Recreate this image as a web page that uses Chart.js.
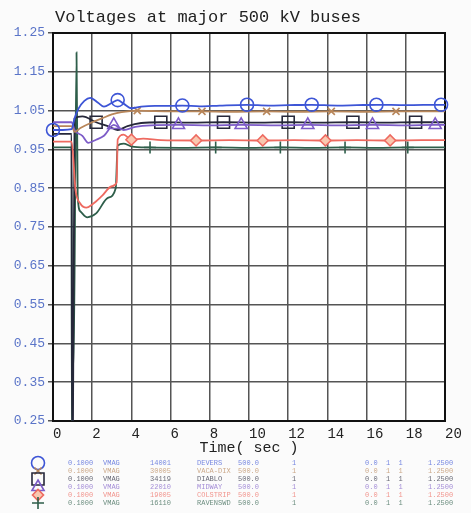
<!DOCTYPE html>
<html>
<head>
<meta charset="utf-8">
<script src="https://cdn.jsdelivr.net/npm/chart.js@4.4.0/dist/chart.umd.min.js"></script>
<style>
  html, body { margin: 0; padding: 0; background: #fbfbfb; }
</style>
</head>
<body>
<canvas id="volts" width="471" height="513"></canvas>
<script>
// axis ranges
const timeMin = 0, timeMax = 20, timeStep = 2;
const voltMin = 0.25, voltMax = 1.25, voltStep = 0.1;

// bus 1 (blue, circles)
const bus1Time  = [0, 0.5, 0.95, 1.1, 1.3, 1.6, 1.9, 2.3, 2.6, 3.0, 3.3, 3.6, 4.0, 4.5, 5.2, 6.0, 6.6, 7.5, 8.5, 9.9, 11.0, 12.0, 13.2, 14.5, 15.5, 16.5, 18.0, 19.8, 20];
const bus1Volts = [1.000, 1.000, 1.002, 1.030, 1.055, 1.075, 1.083, 1.070, 1.060, 1.070, 1.077, 1.068, 1.056, 1.060, 1.062, 1.062, 1.063, 1.061, 1.063, 1.065, 1.063, 1.064, 1.065, 1.063, 1.064, 1.065, 1.064, 1.065, 1.065];
const bus1Marks = [0, 3.3, 6.6, 9.9, 13.2, 16.5, 19.8];

// bus 2 (brown, x)
const bus2Time  = [0, 0.95, 1.1, 1.4, 2.0, 2.5, 3.0, 3.5, 4.3, 5.0, 6.0, 7.6, 9.0, 10.9, 12.5, 14.2, 16.0, 17.5, 20];
const bus2Volts = [1.010, 1.010, 0.995, 1.005, 1.020, 1.030, 1.040, 1.046, 1.050, 1.049, 1.048, 1.048, 1.047, 1.048, 1.047, 1.048, 1.047, 1.048, 1.048];
const bus2Marks = [4.3, 7.6, 10.9, 14.2, 17.5];

// bus 3 (black, squares)
const bus3Time  = [0, 0.5, 0.95, 0.97, 1.02, 1.1, 1.5, 2.2, 2.8, 3.3, 3.8, 4.5, 5.5, 7.0, 8.7, 10.5, 12.0, 13.5, 15.3, 17.0, 18.5, 20];
const bus3Volts = [0.990, 0.990, 0.990, 0.200, 0.250, 1.030, 1.035, 1.020, 1.010, 1.000, 1.010, 1.018, 1.020, 1.019, 1.020, 1.019, 1.020, 1.019, 1.020, 1.019, 1.020, 1.020];
const bus3Marks = [2.2, 5.5, 8.7, 12.0, 15.3, 18.5];

// bus 4 (purple, triangles)
const bus4Time  = [0, 0.95, 1.1, 1.5, 1.8, 2.2, 2.6, 3.1, 3.6, 4.2, 5.0, 6.4, 8.0, 9.6, 11.5, 13.0, 14.5, 16.3, 18.0, 19.5, 20];
const bus4Volts = [1.020, 1.020, 1.000, 0.985, 0.967, 0.975, 0.985, 1.013, 1.000, 1.008, 1.012, 1.013, 1.012, 1.013, 1.012, 1.013, 1.012, 1.013, 1.012, 1.013, 1.013];
const bus4Marks = [3.1, 6.4, 9.6, 13.0, 16.3, 19.5];

// bus 5 (red, diamonds)
const bus5Time  = [0, 0.95, 1.15, 1.4, 1.7, 2.0, 2.5, 3.0, 3.25, 3.3, 3.6, 4.0, 4.6, 5.5, 7.3, 9.0, 10.7, 12.3, 13.9, 15.5, 17.2, 18.8, 20];
const bus5Volts = [0.970, 0.970, 0.845, 0.810, 0.800, 0.808, 0.830, 0.855, 0.865, 0.975, 0.988, 0.975, 0.978, 0.974, 0.973, 0.974, 0.973, 0.974, 0.973, 0.974, 0.973, 0.974, 0.974];
const bus5Marks = [4.0, 7.3, 10.7, 13.9, 17.2];

// bus 6 (green, plus)
const bus6Time  = [0, 0.5, 0.95, 0.96, 1.02, 1.05, 1.2, 1.26, 1.4, 1.75, 2.2, 2.8, 3.2, 3.3, 3.6, 4.0, 4.95, 6.5, 8.3, 10.0, 11.6, 13.2, 14.9, 16.5, 18.1, 20];
const bus6Volts = [0.955, 0.955, 0.955, 0.200, 0.390, 0.390, 1.200, 0.830, 0.790, 0.775, 0.785, 0.825, 0.850, 0.960, 0.965, 0.958, 0.955, 0.954, 0.955, 0.954, 0.955, 0.954, 0.955, 0.954, 0.955, 0.955];
const bus6Marks = [4.95, 8.3, 11.6, 14.9, 18.1];

// legend table text
const legendScale = ['0.1000', '0.1000', '0.1000', '0.1000', '0.1000', '0.1000'];
const legendType  = ['VMAG', 'VMAG', 'VMAG', 'VMAG', 'VMAG', 'VMAG'];
const legendBus   = ['14001', '30005', '34119', '22010', '19005', '16110'];
const legendName  = ['DEVERS', 'VACA-DIX', 'DIABLO', 'MIDWAY', 'COLSTRIP', 'RAVENSWD'];
const legendKv    = ['500.0', '500.0', '500.0', '500.0', '500.0', '500.0'];
const legendTail  = ['0.0  1  1', '0.0  1  1', '0.0  1  1', '0.0  1  1', '0.0  1  1', '0.0  1  1'];
const legendBase  = ['1.2500', '1.2500', '1.2500', '1.2500', '1.2500', '1.2500'];

const MONO = "'Liberation Mono', 'DejaVu Sans Mono', monospace";

function series(label, times, volts, marks, color, style, r, fill) {
  return {
    label,
    data: times.map((t, i) => ({ x: t, y: volts[i] })),
    borderColor: color,
    borderWidth: 1.8,
    cubicInterpolationMode: 'monotone',
    pointStyle: style,
    pointRadius: ctx => (ctx.raw && marks.includes(ctx.raw.x)) ? r : 0,
    pointHoverRadius: 0,
    pointBorderColor: color,
    pointBackgroundColor: fill,
    pointBorderWidth: 1.6,
    clip: { left: 8, right: 8, top: 0, bottom: 0 },
    legendRadius: r
  };
}

const datasets = [
  series('bus1', bus1Time, bus1Volts, bus1Marks, '#3d55d6', 'circle', 6.5, 'rgba(0,0,0,0)'),
  series('bus2', bus2Time, bus2Volts, bus2Marks, '#b8865a', 'crossRot', 5, 'rgba(0,0,0,0)'),
  series('bus4', bus4Time, bus4Volts, bus4Marks, '#7d5cc8', 'triangle', 7, 'rgba(0,0,0,0)'),
  series('bus5', bus5Time, bus5Volts, bus5Marks, '#ee6a60', 'rectRot', 5.5, '#f9c8b0'),
  series('bus3', bus3Time, bus3Volts, bus3Marks, '#26283a', 'rect', 8.5, 'rgba(0,0,0,0)'),
  series('bus6', bus6Time, bus6Volts, bus6Marks, '#2e5e4a', 'cross', 6, 'rgba(0,0,0,0)')
];
// legend rows follow the original listing order
const legendOrder = [0, 1, 4, 2, 3, 5];

// white plot area and black frame
const frame = {
  id: 'frame',
  beforeDraw(chart) {
    const { ctx, chartArea: a } = chart;
    ctx.save();
    ctx.fillStyle = '#ffffff';
    ctx.fillRect(a.left, a.top, a.right - a.left, a.bottom - a.top);
    ctx.restore();
  },
  beforeDatasetsDraw(chart) {
    const { ctx, chartArea: a } = chart;
    ctx.save();
    ctx.strokeStyle = '#111';
    ctx.lineWidth = 2;
    ctx.strokeRect(a.left, a.top, a.right - a.left, a.bottom - a.top);
    ctx.restore();
  }
};

// title and the bus table under the plot
const annotations = {
  id: 'annotations',
  afterDraw(chart) {
    const ctx = chart.ctx;
    ctx.save();
    ctx.fillStyle = '#222';
    ctx.font = '17px ' + MONO;
    ctx.textBaseline = 'middle';
    ctx.fillText('Voltages at major 500 kV buses', 55, 17);

    ctx.font = '7px ' + MONO;
    legendOrder.forEach((di, row) => {
      const ds = chart.data.datasets[di];
      const y = 463 + row * 8;
      ctx.strokeStyle = ds.borderColor;
      ctx.fillStyle = ds.pointBackgroundColor;
      ctx.lineWidth = 1.6;
      if (Chart.helpers && Chart.helpers.drawPoint) {
        Chart.helpers.drawPoint(ctx, { pointStyle: ds.pointStyle, radius: ds.legendRadius, borderWidth: 1.6, rotation: 0 }, 38, y);
      }
      ctx.globalAlpha = 0.7;
      ctx.fillStyle = ds.borderColor;
      ctx.fillText(legendScale[row], 68, y);
      ctx.fillText(legendType[row], 103, y);
      ctx.fillText(legendBus[row], 150, y);
      ctx.fillText(legendName[row], 197, y);
      ctx.fillText(legendKv[row], 238, y);
      ctx.fillText('1', 292, y);
      ctx.fillText(legendTail[row], 365, y);
      ctx.fillText(legendBase[row], 428, y);
      ctx.globalAlpha = 1;
    });
    ctx.restore();
  }
};

Chart.defaults.font.family = MONO;

new Chart(document.getElementById('volts'), {
  type: 'line',
  data: { datasets },
  options: {
    responsive: false,
    animation: false,
    layout: { padding: { top: 33, right: 26, bottom: 56, left: 0 } },
    plugins: {
      legend: { display: false },
      tooltip: { enabled: false }
    },
    scales: {
      x: {
        type: 'linear',
        min: timeMin,
        max: timeMax,
        ticks: { stepSize: timeStep, align: 'start', padding: 5, color: '#222', font: { size: 14 } },
        grid: { color: '#555', lineWidth: 1.5, drawTicks: false },
        border: { display: false },
        title: { display: true, text: 'Time( sec )', color: '#222', font: { size: 15 }, padding: 0 },
        afterFit(scale) { scale.height = 36; }
      },
      y: {
        min: voltMin,
        max: voltMax,
        ticks: { stepSize: voltStep, callback: v => v.toFixed(2), color: '#5a74c8', font: { size: 13 }, padding: 3 },
        grid: { color: '#555', lineWidth: 1.5, tickLength: 5 },
        border: { display: false },
        afterFit(scale) { scale.width = 53; }
      }
    }
  },
  plugins: [frame, annotations]
});
</script>
</body>
</html>
